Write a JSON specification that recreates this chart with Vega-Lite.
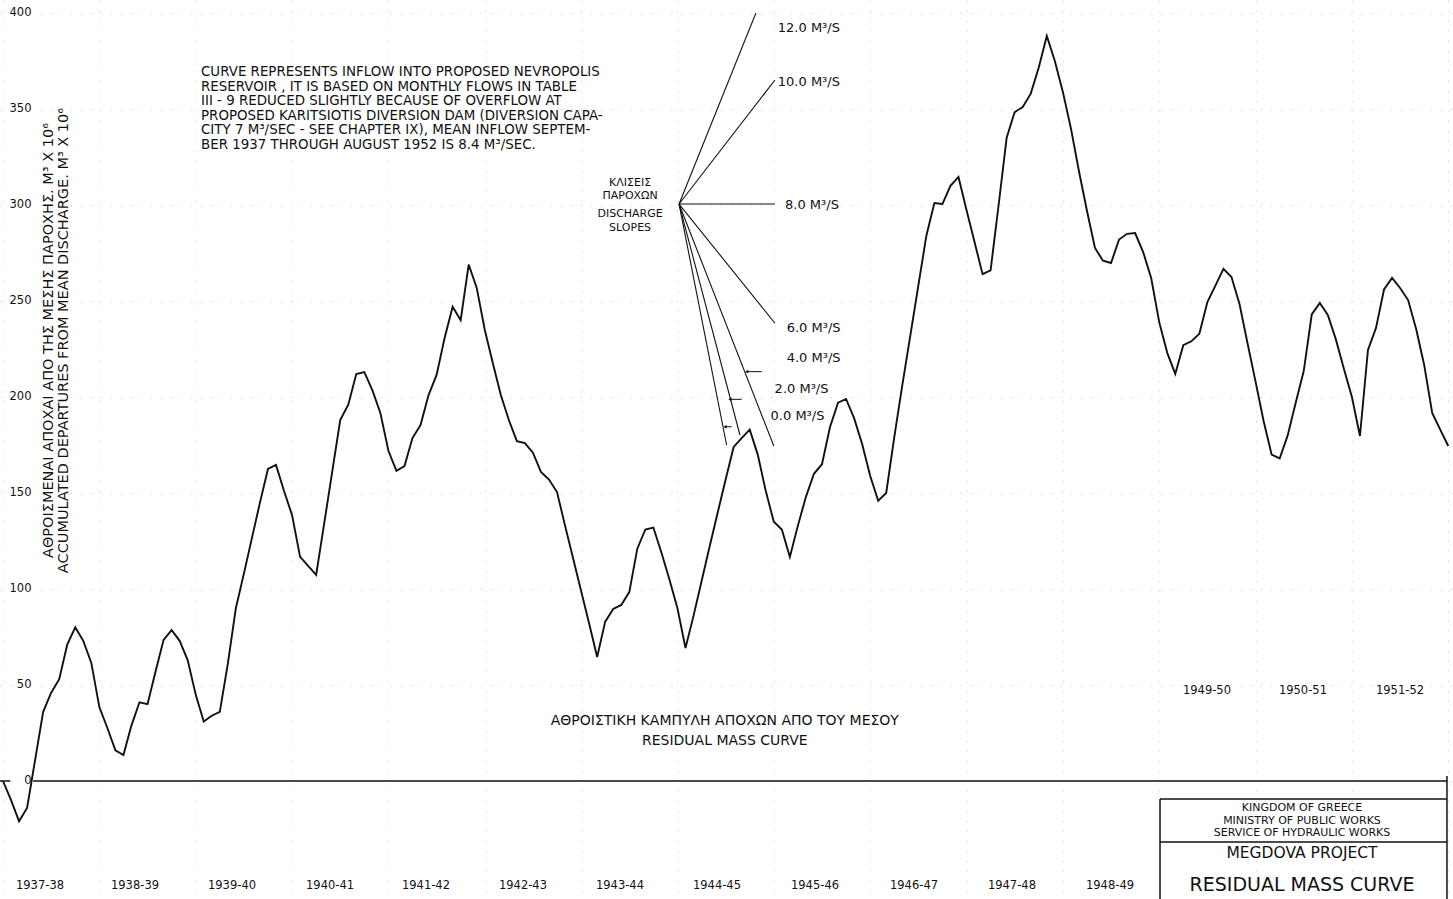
{
  "$schema": "https://vega.github.io/schema/vega-lite/v6.json",
  "width": 1453,
  "height": 899,
  "autosize": {"type": "none"},
  "padding": 0,
  "background": "white",
  "config": {
    "view": {"stroke": null},
    "font": "DejaVu Sans",
    "text": {"font": "DejaVu Sans", "color": "#111"}
  },
  "encoding": {
    "x": {
      "field": "month",
      "type": "quantitative",
      "scale": {"domain": [-0.374, 180.59], "nice": false, "zero": false},
      "axis": {
        "orient": "bottom",
        "values": [0, 12, 24, 36, 48, 60, 72, 84, 96, 108, 120, 132, 144, 156, 168, 180],
        "labels": false,
        "ticks": false,
        "domain": false,
        "title": null,
        "grid": true,
        "gridColor": "#e2e2e2",
        "gridDash": [2, 8],
        "gridWidth": 1
      }
    },
    "y": {
      "field": "acc",
      "type": "quantitative",
      "scale": {"domain": [-61.46, 406.77], "nice": false, "zero": false},
      "axis": {
        "orient": "left",
        "values": [0, 50, 100, 150, 200, 250, 300, 350, 400],
        "domain": false,
        "ticks": false,
        "labelAlign": "right",
        "labelBaseline": "middle",
        "labelPadding": -31,
        "labelFont": "DejaVu Sans",
        "labelFontSize": 11.5,
        "labelColor": "#111",
        "grid": true,
        "gridColor": "#e2e2e2",
        "gridDash": [2, 8],
        "gridWidth": 1,
        "title": [
          "ΑΘΡΟΙΣΜΕΝΑΙ ΑΠΟΧΑΙ ΑΠΟ ΤΗΣ ΜΕΣΗΣ ΠΑΡΟΧΗΣ. M³ X 10⁶",
          "ACCUMULATED DEPARTURES FROM MEAN DISCHARGE. M³ X 10⁶"
        ],
        "titleFont": "DejaVu Sans",
        "titleFontSize": 14.5,
        "titleFontWeight": "normal",
        "titleColor": "#111",
        "titleAngle": 270,
        "titleAlign": "center",
        "titleBaseline": "top",
        "titleLineHeight": 15.5,
        "titleX": 41,
        "titleY": 340
      }
    }
  },
  "layer": [
    {
      "description": "Residual mass curve, monthly, September 1937 to August 1952",
      "data": {
        "values": [
          {"month": 0, "acc": 0}, {"month": 1, "acc": -10}, {"month": 2, "acc": -21}, {"month": 3, "acc": -14},
          {"month": 4, "acc": 11}, {"month": 5, "acc": 36}, {"month": 6, "acc": 46}, {"month": 7, "acc": 53},
          {"month": 8, "acc": 71}, {"month": 9, "acc": 80}, {"month": 10, "acc": 73}, {"month": 11, "acc": 61.5},
          {"month": 12, "acc": 38.5}, {"month": 13, "acc": 27.6}, {"month": 14, "acc": 16}, {"month": 15, "acc": 13.5},
          {"month": 16, "acc": 29}, {"month": 17, "acc": 41}, {"month": 18, "acc": 40}, {"month": 19, "acc": 57},
          {"month": 20, "acc": 73.5}, {"month": 21, "acc": 78.6}, {"month": 22, "acc": 73}, {"month": 23, "acc": 63},
          {"month": 24, "acc": 45}, {"month": 25, "acc": 31}, {"month": 26, "acc": 34}, {"month": 27, "acc": 36},
          {"month": 28, "acc": 61}, {"month": 29, "acc": 90}, {"month": 30, "acc": 108}, {"month": 31, "acc": 126.5},
          {"month": 32, "acc": 145}, {"month": 33, "acc": 162.5}, {"month": 34, "acc": 164.6}, {"month": 35, "acc": 151},
          {"month": 36, "acc": 138.5}, {"month": 37, "acc": 116.7}, {"month": 38, "acc": 112}, {"month": 39, "acc": 107.3},
          {"month": 40, "acc": 134}, {"month": 41, "acc": 161}, {"month": 42, "acc": 188}, {"month": 43, "acc": 196},
          {"month": 44, "acc": 212}, {"month": 45, "acc": 213}, {"month": 46, "acc": 203.6}, {"month": 47, "acc": 191.7},
          {"month": 48, "acc": 172}, {"month": 49, "acc": 161.5}, {"month": 50, "acc": 164}, {"month": 51, "acc": 178.6},
          {"month": 52, "acc": 185.4}, {"month": 53, "acc": 201}, {"month": 54, "acc": 211.5}, {"month": 55, "acc": 230.7},
          {"month": 56, "acc": 247}, {"month": 57, "acc": 240}, {"month": 58, "acc": 269}, {"month": 59, "acc": 256.8},
          {"month": 60, "acc": 235}, {"month": 61, "acc": 217.7}, {"month": 62, "acc": 201}, {"month": 63, "acc": 188},
          {"month": 64, "acc": 177}, {"month": 65, "acc": 176}, {"month": 66, "acc": 171}, {"month": 67, "acc": 161},
          {"month": 68, "acc": 157}, {"month": 69, "acc": 150.5}, {"month": 70, "acc": 133}, {"month": 71, "acc": 116},
          {"month": 72, "acc": 99}, {"month": 73, "acc": 82}, {"month": 74, "acc": 64.6}, {"month": 75, "acc": 83},
          {"month": 76, "acc": 89.6}, {"month": 77, "acc": 91.7}, {"month": 78, "acc": 98.4}, {"month": 79, "acc": 121},
          {"month": 80, "acc": 131}, {"month": 81, "acc": 132}, {"month": 82, "acc": 119}, {"month": 83, "acc": 105},
          {"month": 84, "acc": 90}, {"month": 85, "acc": 69.3}, {"month": 86, "acc": 86}, {"month": 87, "acc": 104},
          {"month": 88, "acc": 122}, {"month": 89, "acc": 139.6}, {"month": 90, "acc": 157}, {"month": 91, "acc": 174},
          {"month": 92, "acc": 178.6}, {"month": 93, "acc": 183}, {"month": 94, "acc": 170}, {"month": 95, "acc": 151},
          {"month": 96, "acc": 135}, {"month": 97, "acc": 131}, {"month": 98, "acc": 116.7}, {"month": 99, "acc": 133},
          {"month": 100, "acc": 148}, {"month": 101, "acc": 160}, {"month": 102, "acc": 165}, {"month": 103, "acc": 184.4},
          {"month": 104, "acc": 197}, {"month": 105, "acc": 199}, {"month": 106, "acc": 189}, {"month": 107, "acc": 175.5},
          {"month": 108, "acc": 159}, {"month": 109, "acc": 146}, {"month": 110, "acc": 150}, {"month": 111, "acc": 179},
          {"month": 112, "acc": 206}, {"month": 113, "acc": 232}, {"month": 114, "acc": 258}, {"month": 115, "acc": 284},
          {"month": 116, "acc": 301}, {"month": 117, "acc": 300.5}, {"month": 118, "acc": 310}, {"month": 119, "acc": 314.6},
          {"month": 120, "acc": 297.4}, {"month": 121, "acc": 280.7}, {"month": 122, "acc": 264}, {"month": 123, "acc": 266},
          {"month": 124, "acc": 300}, {"month": 125, "acc": 335}, {"month": 126, "acc": 348.4}, {"month": 127, "acc": 351},
          {"month": 128, "acc": 358}, {"month": 129, "acc": 371.6}, {"month": 130, "acc": 388}, {"month": 131, "acc": 375},
          {"month": 132, "acc": 358.9}, {"month": 133, "acc": 340}, {"month": 134, "acc": 317.7}, {"month": 135, "acc": 297},
          {"month": 136, "acc": 277.6}, {"month": 137, "acc": 271}, {"month": 138, "acc": 269.8}, {"month": 139, "acc": 282},
          {"month": 140, "acc": 285}, {"month": 141, "acc": 285.4}, {"month": 142, "acc": 275.5}, {"month": 143, "acc": 262},
          {"month": 144, "acc": 239}, {"month": 145, "acc": 223}, {"month": 146, "acc": 212}, {"month": 147, "acc": 227},
          {"month": 148, "acc": 229}, {"month": 149, "acc": 233}, {"month": 150, "acc": 249.5}, {"month": 151, "acc": 258},
          {"month": 152, "acc": 266.7}, {"month": 153, "acc": 262.5}, {"month": 154, "acc": 248.4}, {"month": 155, "acc": 228},
          {"month": 156, "acc": 208}, {"month": 157, "acc": 187.5}, {"month": 158, "acc": 170}, {"month": 159, "acc": 168},
          {"month": 160, "acc": 180}, {"month": 161, "acc": 197}, {"month": 162, "acc": 213.5}, {"month": 163, "acc": 243},
          {"month": 164, "acc": 249}, {"month": 165, "acc": 242.7}, {"month": 166, "acc": 230}, {"month": 167, "acc": 214.7},
          {"month": 168, "acc": 200}, {"month": 169, "acc": 179.7}, {"month": 170, "acc": 224.5}, {"month": 171, "acc": 236},
          {"month": 172, "acc": 256}, {"month": 173, "acc": 262}, {"month": 174, "acc": 256.8}, {"month": 175, "acc": 250.5},
          {"month": 176, "acc": 235.4}, {"month": 177, "acc": 216.7}, {"month": 178, "acc": 191.7}, {"month": 179, "acc": 183},
          {"month": 180, "acc": 174.5}
        ]
      },
      "mark": {"type": "line", "color": "#111", "strokeWidth": 1.9, "clip": false}
    },
    {
      "description": "Zero line and title block frame",
      "data": {
        "values": [
          {"month": -0.4, "month2": 0.9, "acc": 0, "acc2": 0},
          {"month": 3.75, "month2": 179.84, "acc": 0, "acc2": 0},
          {"month": 179.84, "month2": 179.84, "acc": 2.6, "acc2": -61.5},
          {"month": 144.1, "month2": 179.84, "acc": -9.4, "acc2": -9.4},
          {"month": 144.1, "month2": 144.1, "acc": -9.4, "acc2": -61.5},
          {"month": 144.1, "month2": 179.84, "acc": -31.8, "acc2": -31.8}
        ]
      },
      "mark": {"type": "rule", "color": "#111", "strokeWidth": 1.5},
      "encoding": {
        "x2": {"field": "month2"},
        "y2": {"field": "acc2"}
      }
    },
    {
      "description": "Discharge slope fan, all rays from one origin",
      "data": {
        "values": [
          {"rate": "12.0", "month": 84.2, "acc": 300.5, "month2": 93.77, "acc2": 400},
          {"rate": "10.0", "month": 84.2, "acc": 300.5, "month2": 96.14, "acc2": 365.1},
          {"rate": "8.0", "month": 84.2, "acc": 300.5, "month2": 96.14, "acc2": 300.5},
          {"rate": "6.0", "month": 84.2, "acc": 300.5, "month2": 96.14, "acc2": 238.4},
          {"rate": "4.0", "month": 84.2, "acc": 300.5, "month2": 96.0, "acc2": 174.5},
          {"rate": "2.0", "month": 84.2, "acc": 300.5, "month2": 91.78, "acc2": 180.2},
          {"rate": "0.0", "month": 84.2, "acc": 300.5, "month2": 90.12, "acc2": 175}
        ]
      },
      "mark": {"type": "rule", "color": "#111", "strokeWidth": 1.1},
      "encoding": {
        "x2": {"field": "month2"},
        "y2": {"field": "acc2"}
      }
    },
    {
      "description": "Leaders from the low slope labels",
      "data": {
        "values": [
          {"month": 92.62, "month2": 94.49, "acc": 213.2},
          {"month": 90.54, "month2": 92.0, "acc": 198.8},
          {"month": 89.92, "month2": 90.75, "acc": 184.5}
        ]
      },
      "mark": {"type": "rule", "color": "#111", "strokeWidth": 1},
      "encoding": {
        "x2": {"field": "month2"}
      }
    },
    {
      "description": "Leader arrowheads",
      "data": {
        "values": [
          {"month": 92.62, "acc": 213.2},
          {"month": 90.54, "acc": 198.8},
          {"month": 89.92, "acc": 184.5}
        ]
      },
      "mark": {"type": "point", "shape": "triangle-left", "filled": true, "color": "#111", "size": 14, "opacity": 1}
    },
    {
      "description": "Slope labels",
      "data": {
        "values": [
          {"label": "12.0  M³/S", "month": 96.5, "acc": 392.2},
          {"label": "10.0  M³/S", "month": 96.5, "acc": 364},
          {"label": "8.0  M³/S", "month": 97.4, "acc": 300},
          {"label": "6.0  M³/S", "month": 97.6, "acc": 236},
          {"label": "4.0  M³/S", "month": 97.6, "acc": 220.3},
          {"label": "2.0  M³/S", "month": 96.1, "acc": 204},
          {"label": "0.0  M³/S", "month": 95.6, "acc": 190}
        ]
      },
      "mark": {"type": "text", "align": "left", "baseline": "middle", "fontSize": 13, "color": "#111"},
      "encoding": {"text": {"field": "label", "type": "nominal"}}
    },
    {
      "description": "Fan caption",
      "data": {
        "values": [
          {"label": "ΚΛΙΣΕΙΣ", "month": 78.1, "acc": 311.5},
          {"label": "ΠΑΡΟΧΩΝ", "month": 78.1, "acc": 304.7},
          {"label": "DISCHARGE", "month": 78.1, "acc": 295.3},
          {"label": "SLOPES", "month": 78.1, "acc": 288}
        ]
      },
      "mark": {"type": "text", "align": "center", "baseline": "middle", "fontSize": 11, "color": "#111"},
      "encoding": {"text": {"field": "label", "type": "nominal"}}
    },
    {
      "description": "Explanatory note",
      "data": {
        "values": [
          {"label": "CURVE REPRESENTS INFLOW INTO PROPOSED NEVROPOLIS", "month": 24.66, "acc": 369.3},
          {"label": "RESERVOIR , IT IS BASED ON MONTHLY FLOWS IN TABLE", "month": 24.66, "acc": 361.5},
          {"label": "III - 9 REDUCED SLIGHTLY BECAUSE OF OVERFLOW AT", "month": 24.66, "acc": 354.2},
          {"label": "PROPOSED KARITSIOTIS DIVERSION DAM (DIVERSION CAPA-", "month": 24.66, "acc": 346.4},
          {"label": "CITY 7 M³/SEC - SEE CHAPTER IX), MEAN INFLOW SEPTEM-", "month": 24.66, "acc": 339.1},
          {"label": "BER 1937 THROUGH AUGUST 1952 IS 8.4 M³/SEC.", "month": 24.66, "acc": 331.3}
        ]
      },
      "mark": {"type": "text", "align": "left", "baseline": "middle", "fontSize": 13.4, "color": "#111"},
      "encoding": {"text": {"field": "label", "type": "nominal"}}
    },
    {
      "description": "Curve caption",
      "data": {
        "values": [
          {"label": "ΑΘΡΟΙΣΤΙΚΗ ΚΑΜΠΥΛΗ ΑΠΟΧΩΝ ΑΠΟ ΤΟΥ ΜΕΣΟΥ", "month": 89.9, "acc": 31.25},
          {"label": "RESIDUAL MASS CURVE", "month": 89.9, "acc": 20.8}
        ]
      },
      "mark": {"type": "text", "align": "center", "baseline": "middle", "fontSize": 14, "color": "#111"},
      "encoding": {"text": {"field": "label", "type": "nominal"}}
    },
    {
      "description": "Water year labels",
      "data": {
        "values": [
          {"label": "1937-38", "month": 4.61, "acc": -54.7},
          {"label": "1938-39", "month": 16.44, "acc": -54.7},
          {"label": "1939-40", "month": 28.52, "acc": -54.7},
          {"label": "1940-41", "month": 40.73, "acc": -54.7},
          {"label": "1941-42", "month": 52.68, "acc": -54.7},
          {"label": "1942-43", "month": 64.76, "acc": -54.7},
          {"label": "1943-44", "month": 76.84, "acc": -54.7},
          {"label": "1944-45", "month": 88.92, "acc": -54.7},
          {"label": "1945-46", "month": 101.13, "acc": -54.7},
          {"label": "1946-47", "month": 113.46, "acc": -54.7},
          {"label": "1947-48", "month": 125.66, "acc": -54.7},
          {"label": "1948-49", "month": 137.87, "acc": -54.7},
          {"label": "1949-50", "month": 149.95, "acc": 46.9},
          {"label": "1950-51", "month": 161.9, "acc": 46.9},
          {"label": "1951-52", "month": 173.99, "acc": 46.9}
        ]
      },
      "mark": {"type": "text", "align": "center", "baseline": "middle", "fontSize": 11.5, "color": "#111"},
      "encoding": {"text": {"field": "label", "type": "nominal"}}
    },
    {
      "description": "Title block, small lines",
      "data": {
        "values": [
          {"label": "KINGDOM OF GREECE", "month": 161.78, "acc": -14.06},
          {"label": "MINISTRY OF PUBLIC WORKS", "month": 161.78, "acc": -20.83},
          {"label": "SERVICE OF HYDRAULIC WORKS", "month": 161.78, "acc": -27.08}
        ]
      },
      "mark": {"type": "text", "align": "center", "baseline": "middle", "fontSize": 11, "color": "#111"},
      "encoding": {"text": {"field": "label", "type": "nominal"}}
    },
    {
      "description": "Title block, project name",
      "data": {"values": [{"label": "MEGDOVA PROJECT", "month": 161.78, "acc": -37.5}]},
      "mark": {"type": "text", "align": "center", "baseline": "middle", "fontSize": 15.5, "color": "#111"},
      "encoding": {"text": {"field": "label", "type": "nominal"}}
    },
    {
      "description": "Title block, drawing title",
      "data": {"values": [{"label": "RESIDUAL MASS CURVE", "month": 161.78, "acc": -54.2}]},
      "mark": {"type": "text", "align": "center", "baseline": "middle", "fontSize": 19, "color": "#111"},
      "encoding": {"text": {"field": "label", "type": "nominal"}}
    }
  ]
}
